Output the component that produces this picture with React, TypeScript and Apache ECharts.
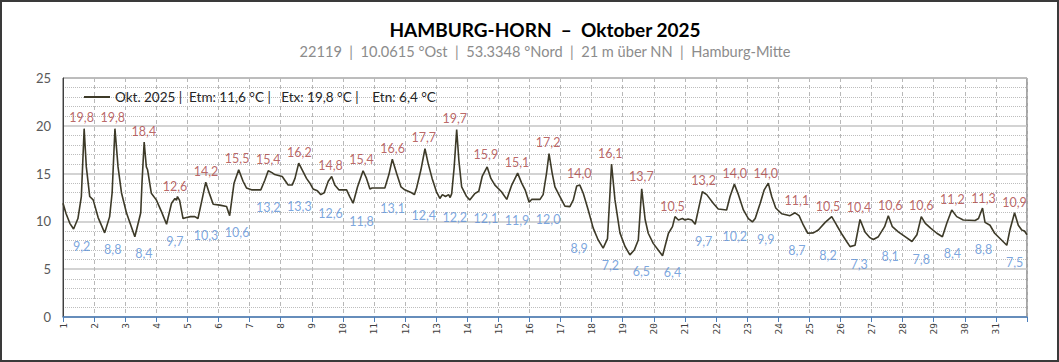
import React, { useEffect, useRef } from "react";
import * as echarts from "echarts";

// time in days (1 = 1 Oct 00:00) and temperature in °C
const times = [
  1.0, 1.1, 1.22, 1.34, 1.48, 1.59, 1.68, 1.75, 1.86, 1.97, 2.13, 2.34, 2.5, 2.58, 2.67, 2.77, 2.88, 3.04, 3.31, 3.5,
  3.54, 3.61, 3.68, 3.72, 3.84, 4.0, 4.17, 4.33, 4.49, 4.6, 4.65, 4.68, 4.75, 4.86, 4.97, 5.1, 5.24, 5.34, 5.47, 5.59,
  5.72, 5.83, 6.04, 6.26, 6.36, 6.5, 6.65, 6.79, 6.9, 7.06, 7.36, 7.49, 7.6, 7.72, 7.81, 8.05, 8.24, 8.37, 8.46, 8.58,
  8.72, 8.83, 8.94, 9.04, 9.18, 9.29, 9.4, 9.53, 9.64, 9.74, 9.87, 10.12, 10.22, 10.33, 10.47, 10.65, 10.76, 10.87,
  10.94, 11.35, 11.48, 11.59, 11.73, 11.87, 11.99, 12.21, 12.3, 12.37, 12.51, 12.64, 12.74, 12.87, 13.01, 13.12, 13.2,
  13.3, 13.4, 13.45, 13.5, 13.58, 13.66, 13.73, 13.82, 13.98, 14.08, 14.24, 14.37, 14.48, 14.64, 14.76, 14.89, 15.1,
  15.27, 15.43, 15.62, 15.75, 15.86, 15.99, 16.07, 16.34, 16.44, 16.55, 16.63, 16.73, 16.82, 16.98, 17.14, 17.3, 17.41,
  17.52, 17.62, 17.73, 17.89, 18.05, 18.21, 18.37, 18.51, 18.64, 18.75, 18.91, 19.07, 19.23, 19.37, 19.5, 19.61, 19.72,
  19.82, 19.98, 20.28, 20.47, 20.6, 20.68, 20.79, 20.92, 21.0, 21.1, 21.22, 21.33, 21.43, 21.56, 21.7, 21.91, 22.07,
  22.34, 22.45, 22.59, 22.72, 22.88, 23.04, 23.17, 23.26, 23.42, 23.55, 23.68, 23.79, 23.92, 24.11, 24.38, 24.54, 24.67,
  24.81, 24.95, 25.13, 25.29, 25.51, 25.72, 25.88, 26.06, 26.2, 26.31, 26.47, 26.63, 26.79, 26.95, 27.06, 27.22, 27.42,
  27.54, 27.67, 27.86, 28.08, 28.3, 28.46, 28.6, 28.73, 28.9, 29.1, 29.28, 29.42, 29.58, 29.74, 29.95, 30.33, 30.44,
  30.57, 30.65, 30.81, 30.96, 31.35, 31.45, 31.6, 31.72, 31.83, 31.92, 32.0,
];
const temps = [
  11.9, 10.8, 9.8, 9.2, 10.3, 12.6, 19.7, 15.7, 12.6, 12.25, 10.4, 8.8, 10.5, 13.0, 19.7, 15.7, 13.0, 10.9, 8.4, 10.9,
  14.0, 18.3, 15.7, 15.4, 12.95, 12.25, 11.0, 9.7, 11.9, 12.4, 12.2, 12.6, 12.2, 10.3, 10.4, 10.5, 10.5, 10.3, 12.25, 14.1,
  12.8, 11.8, 11.7, 11.55, 10.6, 14.0, 15.4, 14.2, 13.5, 13.3, 13.3, 14.3, 15.3, 15.1, 14.9, 14.7, 13.8, 13.8, 14.5, 16.1,
  15.2, 14.5, 14.0, 13.4, 13.2, 12.8, 13.0, 14.2, 14.7, 13.8, 13.3, 13.3, 12.6, 11.9, 13.6, 15.3, 14.5, 13.4,
  13.5, 13.5, 14.9, 16.5, 15.0, 13.6, 13.3, 13.0, 12.8, 13.5, 15.4, 17.6, 16.1, 14.5, 13.1, 12.4, 12.8,
  12.6, 12.8, 12.5, 12.9, 15.7, 19.6, 16.4, 13.6, 12.6, 12.25, 12.9, 13.15, 14.7, 15.7, 14.5, 13.8, 13.1,
  12.3, 13.8, 15.05, 14.0, 13.3, 12.0, 12.3, 12.3, 12.8, 15.05, 17.1, 15.05, 13.6, 12.6, 11.6, 11.55, 12.25,
  13.7, 13.8, 12.95, 11.2, 9.3, 8.06, 7.2, 8.2, 16.0, 12.25, 8.8, 7.4, 6.5, 7.0, 8.06, 13.4, 10.2,
  8.76, 7.7, 6.4, 8.76, 9.45, 10.5, 10.15, 10.3, 10.15, 10.25, 10.15, 9.7, 11.2, 13.1, 12.8, 11.9, 11.3,
  11.2, 12.6, 13.9, 12.8, 11.2, 10.3, 9.95, 10.3, 11.9, 13.3, 14.0, 12.6, 11.4, 10.8, 10.6, 10.9, 10.6,
  9.6, 8.76, 8.8, 9.1, 9.9, 10.5, 9.6, 8.6, 7.9, 7.36, 7.5, 10.2, 8.9, 8.3, 8.1, 8.4, 9.45,
  10.6, 9.45, 8.9, 8.4, 7.9, 8.6, 10.5, 9.8, 9.3, 8.76, 8.4, 9.8, 11.2, 10.5, 10.15, 10.1, 10.3,
  11.4, 9.9, 9.6, 8.76, 7.5, 9.1, 10.9, 9.6, 9.1, 9.0, 8.6,
];

const dayNumbers = Array.from({ length: 31 }, (_, i) => i + 1);
const dailyMax = [
  19.8, 19.8, 18.4, 12.6, 14.2, 15.5, 15.4, 16.2, 14.8, 15.4, 16.6, 17.7, 19.7, 15.9, 15.1, 17.2, 14.0, 16.1, 13.7, 10.5,
  13.2, 14.0, 14.0, 11.1, 10.5, 10.4, 10.6, 10.6, 11.2, 11.3, 10.9,
];
const dailyMin = [
  9.2, 8.8, 8.4, 9.7, 10.3, 10.6, 13.2, 13.3, 12.6, 11.8, 13.1, 12.4, 12.2, 12.1, 11.9, 12.0, 8.9, 7.2, 6.5, 6.4, 9.7,
  10.2, 9.9, 8.7, 8.2, 7.3, 8.1, 7.8, 8.4, 8.8, 7.5,
];
const yTicks = [0, 5, 10, 15, 20, 25];

const titleText = "HAMBURG-HORN  \u2013  Oktober 2025";
const subText = "22119  |  10.0615 °Ost  |  53.3348 °Nord  |  21 m über NN  |  Hamburg-Mitte";
const legendName = "Okt. 2025 |  Etm: 11,6 °C |   Etx: 19,8 °C |    Etn: 6,4 °C";

const fmt = (v: number) => v.toFixed(1).replace(".", ",");

export default function App() {
  const ref = useRef<HTMLDivElement>(null);
  useEffect(() => {
    if (!ref.current) return;
    const chart = echarts.init(ref.current, null, { renderer: "svg" });
    const font = "Lato, 'Noto Sans', sans-serif";
    const lineData = times.map((t, i) => [t, temps[i]]);
    const maxData = dayNumbers.map((d, i) => [d + 0.6, dailyMax[i]]);
    const minData = dayNumbers.map((d, i) => [d + 0.6, dailyMin[i]]);
    chart.setOption({
      animation: false,
      backgroundColor: "#ffffff",
      title: {
        text: titleText,
        subtext: subText,
        left: 540,
        textAlign: "center",
        top: 15,
        itemGap: 5,
        textStyle: { fontFamily: font, fontSize: 19, fontWeight: "bold", color: "#000000" },
        subtextStyle: { fontFamily: font, fontSize: 14.6, color: "#8c8c8c" },
      },
      graphic: [
        {
          type: "rect",
          shape: { x: 1, y: 1, width: 1057, height: 360 },
          style: { fill: "none", stroke: "#3a3a3a", lineWidth: 2 },
          silent: true,
          z: 100,
        },
      ],
      legend: {
        left: 79,
        top: 85,
        itemWidth: 26,
        itemHeight: 2,
        icon: "rect",
        selectedMode: false,
        data: [legendName],
        textStyle: { fontFamily: font, fontSize: 13.5, color: "#262626" },
      },
      grid: {
        left: 63,
        top: 78,
        right: 32,
        bottom: 45,
        show: true,
        borderColor: "#4d4d4d",
        borderWidth: 1,
      },
      xAxis: {
        type: "value",
        min: 1,
        max: 32,
        interval: 1,
        axisLine: { show: true, onZero: false, lineStyle: { color: "#4a7ebb", width: 1.5 } },
        axisTick: { show: true, length: 5, lineStyle: { color: "#4a7ebb" } },
        axisLabel: {
          rotate: 90,
          fontFamily: "'DejaVu Sans Mono', monospace",
          fontSize: 9.5,
          color: "#404040",
          margin: 6,
          formatter: (v: number) => (v >= 1 && v <= 31 ? String(v) : ""),
        },
        splitLine: { show: true, lineStyle: { color: "#b8b8b8", type: [4, 3], width: 1 } },
      },
      yAxis: {
        type: "value",
        min: yTicks[0],
        max: yTicks[yTicks.length - 1],
        interval: 5,
        axisLine: { show: true, lineStyle: { color: "#404040", width: 1 } },
        axisTick: { show: false },
        axisLabel: { fontFamily: font, fontSize: 13, color: "#595959", margin: 12 },
        splitLine: { show: true, lineStyle: { color: "#c4c4c4", width: 1.5 } },
        minorTick: { show: false, splitNumber: 5 },
        minorSplitLine: { show: true, lineStyle: { color: "#bdbdbd", type: "dotted", width: 1 } },
      },
      series: [
        {
          name: legendName,
          type: "line",
          data: lineData,
          symbol: "none",
          lineStyle: { color: "#3d3a28", width: 1.6 },
          itemStyle: { color: "#3d3a28" },
          z: 5,
        },
        {
          name: "max",
          type: "scatter",
          data: maxData,
          symbolSize: 1,
          silent: true,
          itemStyle: { color: "rgba(0,0,0,0)" },
          label: {
            show: true,
            position: "top",
            distance: 3,
            fontFamily: font,
            fontSize: 12.5,
            color: "#a8413f",
            formatter: (p: any) => fmt(p.value[1]),
          },
          z: 6,
        },
        {
          name: "min",
          type: "scatter",
          data: minData,
          symbolSize: 1,
          silent: true,
          itemStyle: { color: "rgba(0,0,0,0)" },
          label: {
            show: true,
            position: "bottom",
            distance: 10,
            fontFamily: font,
            fontSize: 12.5,
            color: "#5b8fd6",
            formatter: (p: any) => fmt(p.value[1]),
          },
          z: 6,
        },
      ],
    });
    return () => chart.dispose();
  }, []);
  return (
    <div
      ref={ref}
      style={{ position: "absolute", left: 0, top: 0, width: 1059, height: 362 }}
    />
  );
}
